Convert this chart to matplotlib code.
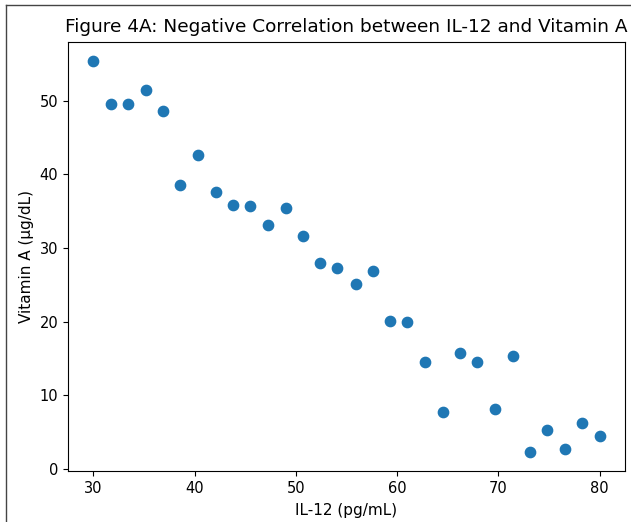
import matplotlib
matplotlib.use('Agg')
import matplotlib.pyplot as plt
from matplotlib.lines import Line2D

# IL-12 (pg/mL) vs Vitamin A (ug/dL)
il12 = [30.0, 31.7, 33.4, 35.2, 36.9, 38.6, 40.3, 42.1, 43.8, 45.5,
        47.2, 49.0, 50.7, 52.4, 54.1, 55.9, 57.6, 59.3, 61.0, 62.8,
        64.5, 66.2, 67.9, 69.7, 71.4, 73.1, 74.8, 76.6, 78.3, 80.0]
vit_a = [55.3, 49.5, 49.5, 51.5, 48.6, 38.5, 42.6, 37.6, 35.9, 35.7,
         33.1, 35.4, 31.6, 28.0, 27.3, 25.1, 26.9, 20.1, 20.0, 14.6,
         7.8, 15.7, 14.6, 8.1, 15.4, 2.4, 5.3, 2.8, 6.2, 4.5]

W, H = 631, 522
fig = plt.figure(figsize=(W/100, H/100), dpi=100)
ax = fig.add_axes([68/W, 1-471/H, (625-68)/W, (471-42)/H])
ax.scatter(il12, vit_a, s=55, color='#1f77b4')
ax.set_title('Figure 4A: Negative Correlation between IL-12 and Vitamin A', fontsize=13.3, pad=7)
ax.set_xlabel('IL-12 (pg/mL)', fontsize=11, labelpad=5)
ax.set_ylabel('Vitamin A (μg/dL)', fontsize=11)
ax.tick_params(labelsize=10.5)

# screenshot frame
fig.add_artist(Line2D([6/W, 6/W], [0, 1-5/H], transform=fig.transFigure, color='#444444', lw=1))
fig.add_artist(Line2D([6/W, 1], [1-5/H, 1-5/H], transform=fig.transFigure, color='#444444', lw=1))

fig.savefig('out.png', dpi=100)
